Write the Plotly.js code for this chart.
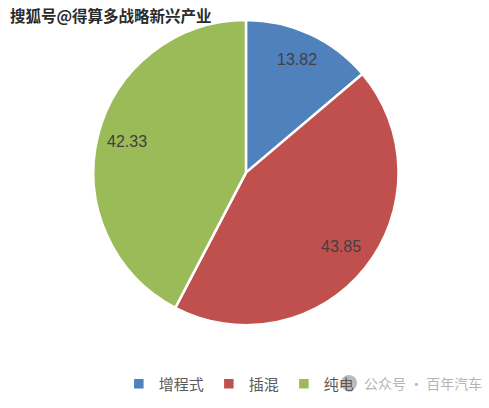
<!DOCTYPE html>
<html><head><meta charset="utf-8">
<script src="https://cdn.plot.ly/plotly-3.0.1.min.js"></script>
<style>html,body{margin:0;padding:0;background:#fff}#chart{width:489px;height:408px}</style>
</head><body><div id="chart"></div>
<script>
const categories = ["增程式", "插混", "纯电"];
const values = [13.82, 43.85, 42.33];
const colors = ["#4F81BD", "#C0504D", "#9BBB59"];
const watermarkTop = "搜狐号@得算多战略新兴产业";
const watermarkBottom = "公众号 · 百年汽车";

const W = 489, H = 408;
const font = "'Noto Sans CJK SC', 'Liberation Sans', sans-serif";
const dom = {x: [0.19, 0.816], y: [0.203, 0.951]};
const data = [{
  type: "pie",
  labels: categories,
  values: values,
  sort: false,
  direction: "clockwise",
  rotation: 0,
  marker: {colors: colors, line: {color: "#ffffff", width: 2.5}},
  textinfo: "none",
  hoverinfo: "label+value",
  domain: dom
}];

// data labels placed along each slice's mid-angle (Excel style, ~0.8 r)
const cx = (dom.x[0] + dom.x[1]) / 2 * W;
const cy = (1 - (dom.y[0] + dom.y[1]) / 2) * H;
const r = Math.min((dom.x[1] - dom.x[0]) * W, (dom.y[1] - dom.y[0]) * H) / 2;
const total = values.reduce((a, b) => a + b, 0);
let cum = 0;
const labelAnns = values.map(v => {
  const mid = (cum + v / 2) / total * 2 * Math.PI;
  cum += v;
  const px = cx + 0.8 * r * Math.sin(mid);
  const py = cy - 0.8 * r * Math.cos(mid) - 2;
  return {text: v.toFixed(2), x: px / W, y: 1 - py / H, xref: "paper", yref: "paper",
    showarrow: false, xanchor: "center", yanchor: "middle",
    font: {family: "'Liberation Sans', Arial, sans-serif", size: 16, color: "#404040"}};
});

const layout = {
  width: W, height: H,
  margin: {l: 0, r: 0, t: 0, b: 0},
  paper_bgcolor: "#ffffff",
  showlegend: true,
  legend: {
    orientation: "h", x: 0.243, xanchor: "left", y: 0.059, yanchor: "middle",
    font: {family: font, size: 15, color: "#595959"},
    bgcolor: "rgba(0,0,0,0)",
    itemwidth: 30, traceorder: "normal"
  },
  shapes: [
    {type: "circle", xref: "paper", yref: "paper", layer: "above",
     x0: 341/W, x1: 357/W, y0: 1 - 391/H, y1: 1 - 375/H,
     fillcolor: "rgba(120,120,120,0.5)", line: {width: 0}}
  ],
  annotations: [
    {text: watermarkTop, x: 8/W, y: 1 - 15/H, xref: "paper", yref: "paper", showarrow: false,
     xanchor: "left", yanchor: "middle",
     font: {family: font, size: 15.5, color: "#2b2b2b", weight: "bold"}},
    {text: watermarkBottom, x: 362/W, y: 1 - 383/H, xref: "paper", yref: "paper", showarrow: false,
     xanchor: "left", yanchor: "middle",
     font: {family: font, size: 14, color: "#b5b5b5"}}
  ].concat(labelAnns)
};
Plotly.newPlot("chart", data, layout, {displayModeBar: false, staticPlot: true});
</script></body></html>
